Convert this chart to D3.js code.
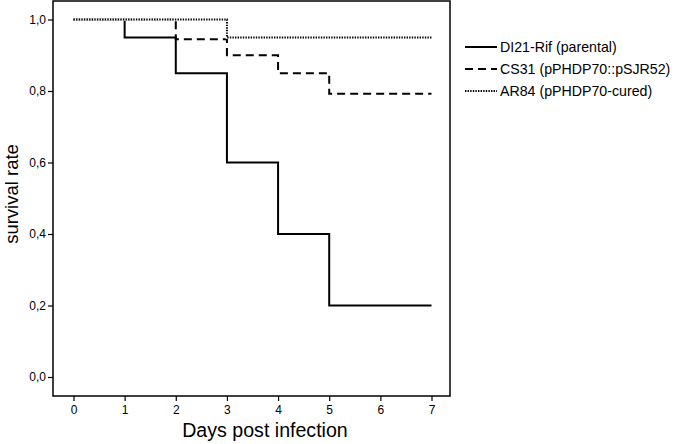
<!DOCTYPE html>
<html><head><meta charset="utf-8">
<script src="https://cdn.jsdelivr.net/npm/d3@7"></script>
<style>body{margin:0;background:#fff}svg{display:block}text{font-family:"Liberation Sans",Arial,sans-serif;fill:#000}</style>
</head><body><svg id="c" width="680" height="444"></svg>
<script>
const days = [0,1,2,3,4,5,6,7];
const yTicks = [0,0.2,0.4,0.6,0.8,1.0];
const seriesNames = ["DI21-Rif (parental)","CS31 (pPHDP70::pSJR52)","AR84 (pPHDP70-cured)"];
// step points: [day, survival]
const di21 = [[0,1.0],[1,0.95],[2,0.85],[3,0.6],[4,0.4],[5,0.2],[7,0.2]];
const cs31 = [[0,1.0],[2,0.945],[3,0.9],[4,0.85],[5,0.792],[7,0.792]];
const ar84 = [[0,1.0],[3,0.95],[7,0.95]];

const svg = d3.select("#c");
const x = d3.scaleLinear().domain([0,7]).range([73.5,431.5]);
const y = d3.scaleLinear().domain([0,1]).range([377,19.5]);
const frame = {l:53,r:450,t:1,b:396};

svg.append("rect").attr("x",frame.l).attr("y",frame.t).attr("width",frame.r-frame.l).attr("height",frame.b-frame.t)
  .attr("fill","none").attr("stroke","#000").attr("stroke-width",1.5);

const ya = svg.append("g").attr("transform",`translate(${frame.l},0)`)
  .call(d3.axisLeft(y).tickValues(yTicks).tickSize(5).tickPadding(2).tickFormat(d=>d3.format(".1f")(d).replace(".",",")));
ya.select(".domain").remove();
ya.selectAll("text").attr("font-size",12);
ya.selectAll("line").attr("stroke-width",1.2);

const xa = svg.append("g").attr("transform",`translate(0,${frame.b})`)
  .call(d3.axisBottom(x).tickValues(days).tickSize(5).tickPadding(4).tickFormat(d3.format("d")));
xa.select(".domain").remove();
xa.selectAll("text").attr("font-size",12);
xa.selectAll("line").attr("stroke-width",1.2);

svg.append("text").attr("x",265).attr("y",437).attr("text-anchor","middle").attr("font-size",19.6).text("Days post infection");
svg.append("text").attr("transform","translate(18,194) rotate(-90)").attr("text-anchor","middle").attr("font-size",18.5).text("survival rate");

const line = d3.line().x(d=>x(d[0])).y(d=>y(d[1])).curve(d3.curveStepAfter);
const styles = [
  {data:di21, dash:null},
  {data:cs31, dash:"8,5"},
  {data:ar84, dash:"1.4,1.2"}
];
styles.forEach((s,i)=>{
  if (i===2) {
    svg.append("path").datum(s.data).attr("d",line).attr("fill","none").attr("stroke","#fff").attr("stroke-width",2.5);
  }
  svg.append("path").datum(s.data).attr("d",line).attr("fill","none").attr("stroke","#000")
    .attr("stroke-width",2).attr("stroke-dasharray",s.dash);
});

const lg = svg.append("g");
seriesNames.forEach((n,i)=>{
  const yy = 47 + i*22;
  lg.append("line").attr("x1",465).attr("x2",497).attr("y1",yy).attr("y2",yy)
    .attr("stroke","#000").attr("stroke-width",2).attr("stroke-dasharray",styles[i].dash);
  lg.append("text").attr("x",500).attr("y",yy+5).attr("font-size",14.2).text(n);
});
</script></body></html>
